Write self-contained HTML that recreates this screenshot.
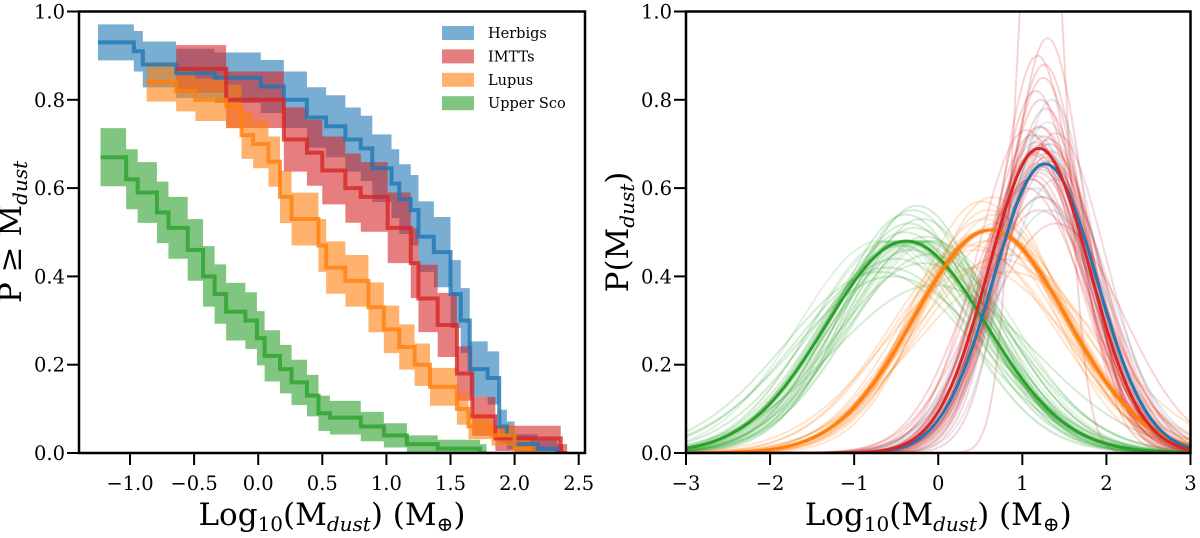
<!DOCTYPE html>
<html><head><meta charset="utf-8"><style>
html,body{margin:0;padding:0;background:#fff;}
svg text{font-family:"DejaVu Serif","Liberation Serif",serif;fill:#000;}
</style></head><body>
<svg id="fig" width="1200" height="533" viewBox="0 0 1200 533" xmlns="http://www.w3.org/2000/svg">
<defs>
<clipPath id="clipL"><rect x="79" y="11.5" width="506" height="441.5"/></clipPath>
<clipPath id="clipR"><rect x="686" y="11.5" width="504.5" height="441.5"/></clipPath>
</defs>
<g id="left"></g>
<g id="right"></g>
</svg>
<script>
// ---- Left panel data: step curves [x start, y level]
const herbigsX = [-1.25,-0.97,-0.9,-0.64,-0.34,0.02,0.20,0.38,0.53,0.68,0.80,0.89,1.04,1.10,1.19,1.25,1.37,1.50,1.58,1.65,1.79,1.88,1.94,2.0,2.18,2.33];
const herbigsY = [0.93,0.91,0.88,0.86,0.85,0.83,0.80,0.76,0.74,0.71,0.69,0.645,0.61,0.575,0.55,0.49,0.455,0.36,0.30,0.19,0.17,0.06,0.04,0.02,0.01,0];
const imttsX = [-0.64,-0.25,0.20,0.38,0.50,0.68,0.80,1.01,1.19,1.25,1.40,1.55,1.67,1.85,2.36];
const imttsY = [0.87,0.80,0.71,0.68,0.64,0.60,0.58,0.51,0.43,0.35,0.29,0.18,0.083,0.033,0];
const lupusX = [-0.87,-0.64,-0.49,-0.25,-0.13,-0.04,0.08,0.17,0.26,0.47,0.53,0.68,0.86,0.98,1.10,1.22,1.34,1.55,1.64,1.82,2.0,2.12];
const lupusY = [0.84,0.82,0.80,0.785,0.72,0.70,0.66,0.58,0.53,0.47,0.42,0.39,0.33,0.28,0.24,0.20,0.15,0.10,0.06,0.04,0.01,0];
const uscoX = [-1.23,-1.03,-0.94,-0.79,-0.70,-0.55,-0.43,-0.34,-0.25,-0.10,-0.01,0.05,0.17,0.26,0.38,0.47,0.56,0.80,0.98,1.16,1.40,1.73];
const uscoY = [0.67,0.62,0.59,0.545,0.51,0.46,0.40,0.36,0.32,0.30,0.26,0.22,0.19,0.16,0.13,0.09,0.08,0.06,0.04,0.02,0.01,0];
const bandK = [0.16,0.16,0.12,0.14];
const legendLabels = ["Herbigs","IMTTs","Lupus","Upper Sco"];
const xTicksL = [-1.0,-0.5,0.0,0.5,1.0,1.5,2.0,2.5];
const yTicks = [0.0,0.2,0.4,0.6,0.8,1.0];
// ---- Right panel data: main gaussians (mean, sigma, peak)
const mainMean = [-0.38,0.62,1.20,1.27];
const mainSigma = [0.95,0.91,0.60,0.61];
const mainPeak = [0.48,0.505,0.69,0.655];
const greenSampleMean = [-0.6,-0.5,-0.45,-0.4,-0.35,-0.3,-0.25,-0.2,-0.15,-0.1,-0.55,-0.32,-0.28,-0.42,-0.18,-0.7,-0.05,-0.38];
const greenSamplePeak = [0.42,0.44,0.47,0.50,0.52,0.55,0.56,0.53,0.49,0.45,0.40,0.46,0.51,0.48,0.43,0.41,0.38,0.54];
const orangeSampleMean = [0.45,0.5,0.55,0.6,0.65,0.7,0.75,0.8,0.52,0.58,0.68,0.62,0.72,0.48,0.85,0.4];
const orangeSamplePeak = [0.46,0.50,0.53,0.55,0.58,0.52,0.49,0.45,0.57,0.48,0.54,0.51,0.44,0.42,0.41,0.47];
const redSampleMean = [1.1,1.15,1.2,1.22,1.25,1.18,1.3,1.28,1.12,1.35,1.24,1.2,1.16,1.32,1.26,1.4,1.05,1.22];
const redSamplePeak = [0.62,0.68,0.74,0.80,0.85,0.90,0.94,0.78,0.72,0.66,0.58,0.55,0.82,0.70,0.88,0.52,0.60,1.6];
const blueSampleMean = [1.15,1.2,1.25,1.3,1.35,1.28,1.22,1.4,1.18,1.32];
const blueSamplePeak = [0.60,0.65,0.70,0.75,0.80,0.68,0.58,0.62,0.72,0.55];
const xTicksR = [-3,-2,-1,0,1,2,3];

const colors = ["#1f77b4","#d62728","#ff7f0e","#2ca02c"];
const NS="http://www.w3.org/2000/svg";
function mk(tag, attrs, parent){const e=document.createElementNS(NS,tag);for(const k in attrs)e.setAttribute(k,attrs[k]);parent.appendChild(e);return e;}
const L=document.getElementById('left'), R=document.getElementById('right');
const yS = v => 453 - v*441.5;
const xL = v => 130 + (v+1)*128.2;
const xR = v => 686 + (v+3)*84.08;

// ---- left panel
const gL = mk('g',{'clip-path':'url(#clipL)'},L);
const series=[[herbigsX,herbigsY],[imttsX,imttsY],[lupusX,lupusY],[uscoX,uscoY]];
function stepPts(xs,ys,off){
  let pts=[];
  for(let i=0;i<xs.length;i++){
    let y=ys[i]+off(ys[i]); y=Math.max(0,Math.min(1,y));
    const xEnd = i<xs.length-1?xs[i+1]:xs[i]+0.05;
    pts.push([xL(xs[i]),yS(y)]);pts.push([xL(xEnd),yS(y)]);
  }
  return pts;
}
series.forEach((s,i)=>{
  const k=bandK[i];
  const d=y=>Math.max(0.02,k*Math.sqrt(Math.max(y*(1-y),0)));
  const up=stepPts(s[0],s[1],y=>d(y)), lo=stepPts(s[0],s[1],y=>-d(y));
  const poly=up.concat(lo.reverse()).map(p=>p.join(',')).join(' ');
  const band=mk('polygon',{points:poly,fill:colors[i],'fill-opacity':0.6,stroke:'none'},gL);
  
  
});
series.forEach((s,i)=>{
  const pts=stepPts(s[0],s[1],()=>0).map(p=>p.join(',')).join(' ');
  const line=mk('polyline',{points:pts,fill:'none',stroke:colors[i],'stroke-width':4,'stroke-opacity':0.8},gL);
  
  
});
function axes(parent,x0,x1,xTicks,xf,xfmt,ylab){
  mk('rect',{x:x0,y:11.5,width:x1-x0,height:441.5,fill:'none',stroke:'#000','stroke-width':2.5},parent);
  xTicks.forEach(t=>{
    const x=xf(t);
    mk('line',{x1:x,x2:x,y1:453,y2:465,stroke:'#000','stroke-width':2},parent);
    const tx=mk('text',{x:x,y:490,'font-size':19.5,'text-anchor':'middle'},parent);
    tx.textContent=xfmt(t);
    
    
  });
  yTicks.forEach(t=>{
    const y=yS(t);
    mk('line',{x1:x0-12,x2:x0,y1:y,y2:y,stroke:'#000','stroke-width':2},parent);
    const tx=mk('text',{x:x0-14,y:y+7,'font-size':19.5,'text-anchor':'end'},parent);
    tx.textContent=t.toFixed(1);
    
    
  });
  const xl=mk('text',{x:(x0+x1)/2,y:525,'font-size':31,'text-anchor':'middle'},parent);
  xl.innerHTML='Log<tspan font-size="20" dy="6">10</tspan><tspan dy="-6">(M</tspan><tspan font-size="20" dy="6" font-style="italic">dust</tspan><tspan dy="-6">) (M</tspan><tspan font-size="20" dy="6">⊕</tspan><tspan dy="-6">)</tspan>';
  
  
  const cx = x0-58;
  const yl=mk('text',{x:0,y:0,'font-size':31,'text-anchor':'middle',transform:`translate(${cx},232) rotate(-90)`},parent);
  yl.innerHTML=ylab;
  
  
}
axes(L,79,585,xTicksL,xL,t=>t.toFixed(1).replace('-','−'),'P ≥ M<tspan font-size="20" dy="6" font-style="italic">dust</tspan>');
// legend
legendLabels.forEach((lab,i)=>{
  const y=33+i*23.4;
  const r=mk('rect',{x:442,y:y-7,width:32,height:14,fill:colors[i],'fill-opacity':0.6},L);
  
  
  const t=mk('text',{x:488,y:y+5,'font-size':14.5},L);
  t.textContent=lab;
  
  
});

// ---- right panel
const gR=mk('g',{'clip-path':'url(#clipR)'},R);
function gauss(m,s,p,color,w,op,name){
  let pts=[];
  for(let x=-3;x<=3.001;x+=0.03){pts.push(xR(x).toFixed(1)+','+yS(p*Math.exp(-(x-m)*(x-m)/(2*s*s))).toFixed(1));}
  const l=mk('polyline',{points:pts.join(' '),fill:'none',stroke:color,'stroke-width':w,'stroke-opacity':op},gR);
  
  
}
const area=[mainPeak[0]*mainSigma[0],mainPeak[1]*mainSigma[1],mainPeak[2]*mainSigma[2],mainPeak[3]*mainSigma[3]];
greenSampleMean.forEach((m,i)=>gauss(m,area[0]/greenSamplePeak[i],greenSamplePeak[i],colors[3],2,0.2,'upper-sco-sample-curve'));
orangeSampleMean.forEach((m,i)=>gauss(m,area[1]/orangeSamplePeak[i],orangeSamplePeak[i],colors[2],2,0.2,'lupus-sample-curve'));
blueSampleMean.forEach((m,i)=>gauss(m,area[3]/blueSamplePeak[i],blueSamplePeak[i],colors[0],2,0.15,'herbigs-sample-curve'));
redSampleMean.forEach((m,i)=>gauss(m,area[2]/redSamplePeak[i],redSamplePeak[i],colors[1],2,0.2,'imtts-sample-curve'));
// thick clusters
greenSampleMean.forEach((m,i)=>gauss(m,mainSigma[0]*(0.95+0.004*i),mainPeak[0],colors[3],2,0.14,'upper-sco-sample-curve'));
orangeSampleMean.forEach((m,i)=>gauss(mainMean[1]+(m-0.62)*0.2,mainSigma[1],mainPeak[1],colors[2],2,0.18,'lupus-sample-curve'));
redSampleMean.forEach((m,i)=>gauss(m,mainSigma[2],mainPeak[2]*(0.9+0.01*i),colors[1],2,0.18,'imtts-sample-curve'));
gauss(mainMean[0],mainSigma[0],mainPeak[0],colors[3],3,1,'upper-sco-mean-curve');
gauss(mainMean[1],mainSigma[1],mainPeak[1],colors[2],3,1,'lupus-mean-curve');
gauss(mainMean[3],mainSigma[3],mainPeak[3],colors[0],3,1,'herbigs-mean-curve');
gauss(mainMean[2],mainSigma[2],mainPeak[2],colors[1],3,1,'imtts-mean-curve');
axes(R,686,1190.5,xTicksR,xR,t=>String(t).replace('-','−'),'P(M<tspan font-size="20" dy="6" font-style="italic">dust</tspan><tspan dy="-6">)</tspan>');
</script>
</body></html>
